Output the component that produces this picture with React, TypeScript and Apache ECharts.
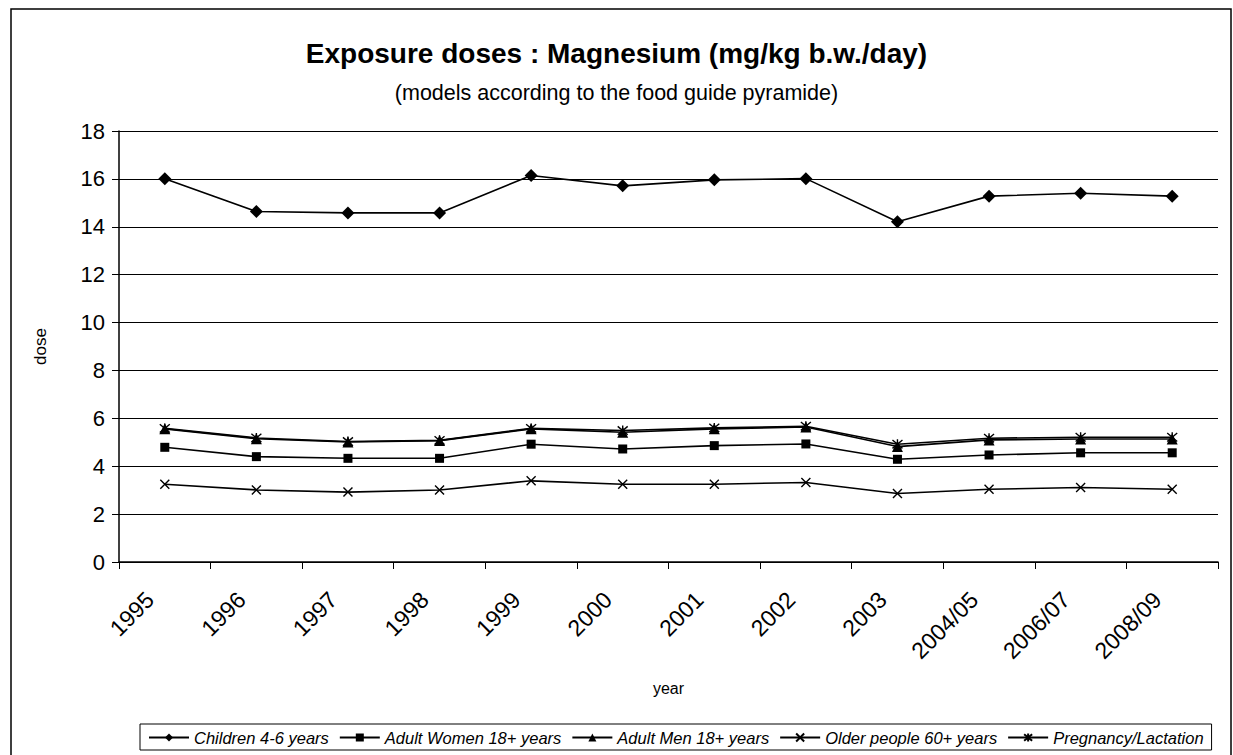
import React, { useEffect, useRef } from "react";
import * as echarts from "echarts";

const categories = ["1995", "1996", "1997", "1998", "1999", "2000", "2001", "2002", "2003", "2004/05", "2006/07", "2008/09"];
const children = [16.01, 14.64, 14.58, 14.58, 16.14, 15.71, 15.96, 16.01, 14.21, 15.28, 15.4, 15.28];
const women = [4.79, 4.4, 4.33, 4.33, 4.92, 4.72, 4.86, 4.93, 4.29, 4.47, 4.56, 4.56];
const men = [5.56, 5.15, 5.01, 5.07, 5.56, 5.42, 5.56, 5.64, 4.82, 5.1, 5.14, 5.14];
const older = [3.25, 3.01, 2.92, 3.01, 3.39, 3.25, 3.25, 3.32, 2.86, 3.04, 3.11, 3.04];
const pregnancy = [5.58, 5.18, 5.03, 5.08, 5.58, 5.49, 5.6, 5.67, 4.92, 5.17, 5.21, 5.21];
const seriesNames = ["Children 4-6 years", "Adult Women 18+ years", "Adult Men 18+ years", "Older people 60+ years", "Pregnancy/Lactation"];
const yTicks = { min: 0, max: 18, interval: 2 };

const FONT = "'Liberation Sans', Arial, sans-serif";
const crossPath = "path://M0,0L10,10M10,0L0,10";
const starPath = "path://M0,0L10,10M10,0L0,10M5,-1L5,11";

export default function App() {
  const ref = useRef<HTMLDivElement>(null);
  useEffect(() => {
    if (!ref.current) return;
    const chart = echarts.init(ref.current, null, { renderer: "svg" });
    const mk = (name: string, data: number[], symbol: string, size: number, stroked = false) => ({
      name,
      type: "line",
      data,
      symbol,
      symbolSize: size,
      showAllSymbol: true,
      lineStyle: { color: "#000", width: 1.6 },
      itemStyle: stroked
        ? { color: "rgba(0,0,0,0)", borderColor: "#000", borderWidth: 1.4 }
        : { color: "#000", borderColor: "#000", borderWidth: 0 },
      emphasis: { disabled: true },
    });
    chart.setOption({
      animation: false,
      backgroundColor: "#fff",
      textStyle: { fontFamily: FONT, color: "#000" },
      title: [
        {
          text: "Exposure doses : Magnesium (mg/kg b.w./day)",
          left: "center",
          top: 34,
          textStyle: { fontFamily: FONT, fontSize: 28, fontWeight: "bold", color: "#000" },
        },
        {
          text: "(models according to the food guide pyramide)",
          left: "center",
          top: 77,
          textStyle: { fontFamily: FONT, fontSize: 21.5, fontWeight: "normal", color: "#000" },
        },
      ],
      grid: { left: 119, right: 15, top: 131, bottom: 193, containLabel: false },
      legend: {
        left: 140,
        top: 724,
        padding: [5, 8, 4, 8],
        itemGap: 10,
        itemWidth: 40,
        itemHeight: 10,
        borderColor: "#000",
        borderWidth: 1,
        textStyle: { fontFamily: FONT, fontSize: 16.5, fontStyle: "italic", color: "#000" },
        data: seriesNames,
      },
      xAxis: {
        type: "category",
        data: categories,
        boundaryGap: true,
        name: "year",
        nameLocation: "middle",
        nameGap: 118,
        nameTextStyle: { fontFamily: FONT, fontSize: 16, color: "#000" },
        axisLine: { lineStyle: { color: "#000", width: 1.5 } },
        axisTick: { show: true, length: 7, lineStyle: { color: "#000" } },
        axisLabel: {
          rotate: 45,
          fontFamily: FONT,
          fontSize: 23,
          color: "#000",
          margin: 19,
          padding: [0, 21, 0, 0],
          interval: 0,
        },
        splitLine: { show: false },
      },
      yAxis: {
        type: "value",
        min: yTicks.min,
        max: yTicks.max,
        interval: yTicks.interval,
        name: "dose",
        nameLocation: "middle",
        nameGap: 70,
        nameTextStyle: { fontFamily: FONT, fontSize: 17, color: "#000" },
        axisLine: { show: true, lineStyle: { color: "#000", width: 1.5 } },
        axisTick: { show: true, length: 7, lineStyle: { color: "#000" } },
        axisLabel: { fontFamily: FONT, fontSize: 22, color: "#000", margin: 14 },
        splitLine: { show: true, lineStyle: { color: "#000", width: 1 } },
      },
      graphic: [
        {
          type: "rect",
          shape: { x: 11, y: 9, width: 1220, height: 760 },
          style: { fill: "none", stroke: "#000", lineWidth: 1.5 },
          silent: true,
        },
      ],
      series: [
        mk(seriesNames[0], children, "diamond", 13),
        mk(seriesNames[1], women, "rect", 9),
        mk(seriesNames[2], men, "triangle", 11),
        mk(seriesNames[3], older, crossPath, 9, true),
        mk(seriesNames[4], pregnancy, starPath, 10, true),
      ],
    });
    return () => chart.dispose();
  }, []);
  return <div ref={ref} style={{ position: "fixed", left: 0, top: 0, width: 1233, height: 755 }} />;
}
